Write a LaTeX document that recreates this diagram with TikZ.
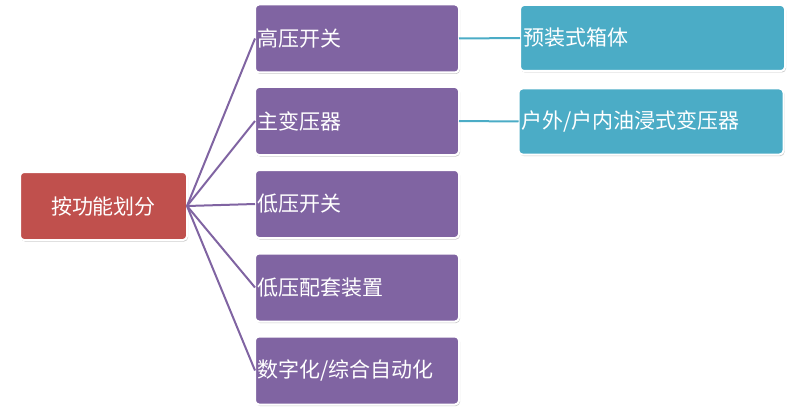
\documentclass[tikz,border=0pt]{standalone}
\usepackage{fontspec}
\newfontfamily\cjk{Noto Sans CJK SC}
\usetikzlibrary{shadows}
\definecolor{rootred}{HTML}{C0504D}
\definecolor{purp}{HTML}{8064A2}
\definecolor{teal2}{HTML}{4BACC6}
\begin{document}
\begin{tikzpicture}[x=1pt,y=-1pt,
  box/.style={draw=white,line width=2pt,rounded corners=4pt,
    drop shadow={shadow xshift=1pt,shadow yshift=-1.5pt,fill=black!35,opacity=0.6},
    text=white,font=\cjk\fontsize{21}{24}\selectfont,inner sep=0pt,outer sep=0pt},
  rootbox/.style={box,fill=rootred,minimum width=167pt,minimum height=68pt},
  pbox/.style={box,fill=purp,minimum width=204pt,minimum height=68pt},
  tbox/.style={box,fill=teal2,minimum width=265pt,minimum height=66pt},
  plink/.style={purp,line width=2pt},
  tlink/.style={teal2,line width=2pt}]
\useasboundingbox (0,0) rectangle (796,420);
\node[rootbox] (root) at (103.5,206) {按功能划分};
\node[pbox] (p1) at (357,38.5) {};
\node[pbox] (p2) at (357,121) {};
\node[pbox] (p3) at (357,204) {};
\node[pbox] (p4) at (357,287.5) {};
\node[pbox] (p5) at (357,370.5) {};
\node[tbox] (t1) at (652.5,38) {};
\node[tbox] (t2) at (651,121.5) {};
\begin{scope}[every node/.style={text=white,font=\cjk\fontsize{21}{24}\selectfont,inner sep=0pt,anchor=west}]
\node (l1) at ([xshift=2pt]p1.west) {高压开关};
\node (l2) at ([xshift=2pt]p2.west) {主变压器};
\node (l3) at ([xshift=2pt]p3.west) {低压开关};
\node (l4) at ([xshift=2pt]p4.west) {低压配套装置};
\node (l5) at ([xshift=2pt]p5.west) {数字化/综合自动化};
\node (m1) at ([xshift=3pt]t1.west) {预装式箱体};
\node (m2) at ([xshift=3pt]t2.west) {户外/户内油浸式变压器};
\end{scope}
\foreach \i in {1,...,5}{\draw[plink] (root.east) -- (p\i.west);}
\draw[tlink] (p1.east) -- (t1.west);
\draw[tlink] (p2.east) -- (t2.west);
\end{tikzpicture}
\end{document}
